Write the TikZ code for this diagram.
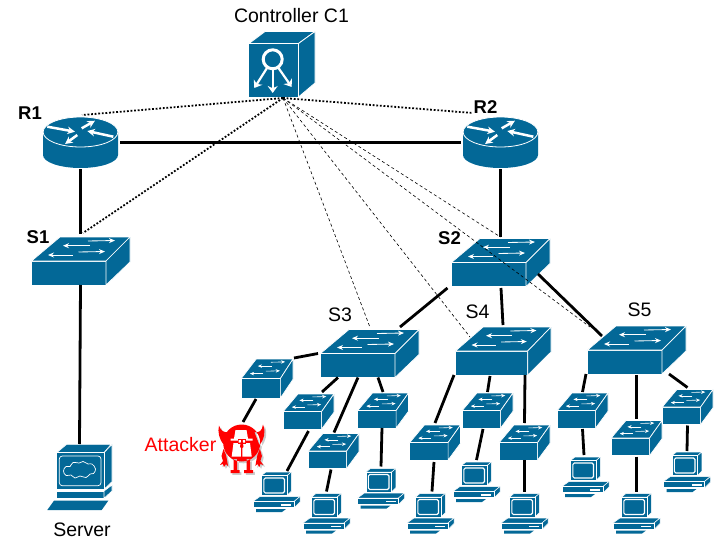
\documentclass[tikz,border=0pt]{standalone}
\usepackage{fontspec}
\setmainfont{Liberation Sans}
\usepackage{xcolor}
\usetikzlibrary{calc,arrows.meta}
\definecolor{ciscoblue}{HTML}{036897}

% icons are drawn in local pixels, from the top left of the node
\newcommand{\swicon}[3]{%
  \begin{scope}[shift={(-#1/2,-#2/2)},xscale=#1/99,yscale=#2/48,draw=white,line width=0.7pt,fill=ciscoblue]
    \filldraw (0,24) -- (75,24) -- (75,48) -- (0,48) -- cycle;
    \filldraw (0.5,24) -- (29,0) -- (99,0) -- (75,24) -- cycle;
    \filldraw (75,24) -- (99,0) -- (99,25) -- (75,48) -- cycle;
    \draw[white,line width=#3*0.85pt,-{Stealth[length=#3*6pt,width=#3*5pt]}] (57,4) -- (84,3.5);
    \draw[white,line width=#3*0.85pt,-{Stealth[length=#3*6pt,width=#3*5pt]}] (59,8.7) -- (32,8.7);
    \draw[white,line width=#3*0.85pt,-{Stealth[length=#3*6pt,width=#3*5pt]}] (47.5,15) -- (74,14.5);
    \draw[white,line width=#3*0.85pt,-{Stealth[length=#3*6pt,width=#3*5pt]}] (42,18) -- (17,18);
  \end{scope}}
\newcommand{\routericon}{%
  \begin{scope}[shift={(-37.5,-25.5)}]
    \fill[ciscoblue] (0,15) -- (0,38) arc[start angle=180,end angle=360,x radius=37.5,y radius=-13] -- (75,15) -- cycle;
    \filldraw[fill=ciscoblue,draw=white,line width=0.8pt] (37.5,15) ellipse[x radius=37.4,y radius=15];
    \draw[white,line width=2.5pt,-{Stealth[length=7.5pt,width=7.5pt]}] (4.3,9.7) -- (32,14.7);
    \draw[white,line width=2.5pt,-{Stealth[length=7.5pt,width=7.5pt]}] (38.7,11.3) -- (52,3.7);
    \draw[white,line width=2.5pt,-{Stealth[length=7.5pt,width=7.5pt]}] (70.3,19.7) -- (44.3,14);
    \draw[white,line width=2.5pt,-{Stealth[length=7.5pt,width=7.5pt]}] (34.3,18) -- (22,27);
  \end{scope}}
\newcommand{\ctlicon}{%
  \begin{scope}[shift={(-33.5,-33)},draw=white,line width=0.8pt,fill=ciscoblue]
    \filldraw (0,12.5) -- (50.5,12.5) -- (50.5,66) -- (0,66) -- cycle;
    \filldraw (1,12.5) -- (17,0.5) -- (67,0.5) -- (50.5,12.5) -- cycle;
    \filldraw (50.5,12.5) -- (67,0.5) -- (67,52) -- (50.5,66) -- cycle;
    \draw[white,line width=3pt] (24.7,28.3) circle[radius=9.5];
    \draw[white,line width=2.2pt,-{Stealth[length=7pt,width=10pt]}] (24.7,38) -- (24.7,62);
    \draw[white,line width=2.2pt,-{Stealth[length=7pt,width=10pt]}] (19,37) -- (6.3,57);
    \draw[white,line width=2.2pt,-{Stealth[length=7pt,width=10pt]}] (30.5,37) -- (43.7,56);
  \end{scope}}
\newcommand{\pcicon}{%
  \begin{scope}[shift={(-23.5,-20)},draw=white,line width=0.5pt,fill=ciscoblue]
    \filldraw (8.3,3.7) -- (13,0) -- (38.3,0) -- (34,3.7) -- cycle;
    \filldraw (34,3.7) -- (38.3,0) -- (38.3,19.3) -- (34,23.3) -- cycle;
    \filldraw (8.3,3.7) -- (34,3.7) -- (34,23.3) -- (8.3,23.3) -- cycle;
    \draw[white,line width=1.1pt,rounded corners=1.5pt] (10.8,6) rectangle (31.5,21);
    \filldraw (0,29.5) -- (7,24.5) -- (47,24.5) -- (41,29.5) -- cycle;
    \filldraw (41,29.5) -- (47,24.5) -- (47,30) -- (41,36) -- cycle;
    \filldraw (0,29.5) -- (41,29.5) -- (41,35.5) -- (0,35.5) -- cycle;
    \fill[white] (28,32) rectangle (38,33.5);
    \fill[ciscoblue] (3,37) -- (33,37) -- (29,40) -- (3,40) -- cycle;
  \end{scope}}
\newcommand{\servericon}{%
  \begin{scope}[shift={(-32.5,-33)},draw=white,line width=0.6pt,fill=ciscoblue]
    \filldraw (9.7,8.7) -- (19.7,0.3) -- (64,0.3) -- (57,8.7) -- cycle;
    \filldraw (57,8.7) -- (65,0.3) -- (65,37.7) -- (57,45.3) -- cycle;
    \filldraw (9.7,8.7) -- (57,8.7) -- (57,45.3) -- (9.7,45.3) -- cycle;
    \draw[white,line width=0.7pt,rounded corners=3pt] (12.3,12) rectangle (54,41.7);
    \draw[white,line width=0.7pt] plot[smooth cycle,tension=0.7] coordinates {(16.5,27) (19,22.5) (23,22.5) (26,18.5) (32,19) (36,17.5) (41,20) (45,20) (48.5,25) (46.5,29.5) (43,30) (39,33.5) (33,32) (28,34) (24,31) (19,31.5)};
    \filldraw (9.7,47) -- (57,47) -- (57,54.3) -- (9.7,54.3) -- cycle;
    \filldraw (57,47) -- (65,41) -- (65,47) -- (57,54.3) -- cycle;
    \fill[ciscoblue] (0.3,66) -- (54.7,66) -- (61.3,56.7) -- (7,56.7) -- cycle;
  \end{scope}}
\newcommand{\devilshape}{%
  (23.7,20) circle[radius=18.5]
  (6,22) .. controls (1,16) and (-0.5,9) .. (1,2.5) .. controls (3,8) and (6,10) .. (11,9) -- cycle
  (41.4,22) .. controls (46.4,16) and (47.9,9) .. (45,1.5) .. controls (44,8) and (41.4,10) .. (36.4,9) -- cycle
  (5.5,26) -- (3.5,33) -- (5,38) -- (2,42) -- (5,41) -- (6,44) -- (8,41) -- (10,43) -- (9,37) -- (8,32) -- cycle
  (41.9,26) -- (43.9,33) -- (42.4,38) -- (45.4,42) -- (42.4,41) -- (41.4,44) -- (39.4,41) -- (37.4,43) -- (38.4,37) -- (39.4,32) -- cycle
  (15.5,36) rectangle (19,47)
  (28.5,36) rectangle (32,47)
  (12.5,47) rectangle (21.5,50)
  (26,47) rectangle (35,50)}
\newcommand{\devilicon}{%
  \begin{scope}[shift={(-24.5,-26.5)}]
    \fill[black!20,shift={(1.8,1.8)}] \devilshape;
    \fill[red] \devilshape;
    \fill[white] (17.5,7) -- (28.5,7) -- (30,15.5) -- (34.5,15.5) -- (34.5,17.5) -- (12.5,17.5) -- (12.5,15.5) -- (16,15.5) -- cycle;
    \fill[white] (15.5,20) -- (32,20) -- (33.7,33.5) -- (13.7,33.5) -- cycle;
    \fill[red] (19.5,15.5) rectangle (28,21);
    \fill[white] (20.5,17) rectangle (22.8,19.5) (24.8,17) rectangle (27,19.5);
    \fill[red] (22.8,19) -- (24.8,19) -- (25.5,24) -- (24.4,25) -- (24.4,34) -- (23.2,34) -- (23.2,25) -- (22,24) -- cycle;
  \end{scope}}

\tikzset{
  pics/swpic/.style n args={3}{code={\swicon{#1}{#2}{#3}}},
  pics/routerpic/.style={code={\routericon}},
  pics/ctlpic/.style={code={\ctlicon}},
  pics/pcpic/.style={code={\pcicon}},
  pics/srvpic/.style={code={\servericon}},
  pics/devilpic/.style={code={\devilicon}}
}

\begin{document}
\begin{tikzpicture}[x=1pt,y=-1pt]
      \useasboundingbox (0,0) rectangle (716,544);
      \tikzstyle{devbox} = [inner sep = 0pt, outer sep = 0pt]
      \tikzstyle{swbig} = [devbox, minimum width = 99pt, minimum height = 48pt]
      \tikzstyle{swmid} = [devbox, minimum width = 96pt, minimum height = 48pt]
      \tikzstyle{swsmall} = [devbox, minimum width = 51pt, minimum height = 35pt]
      \tikzstyle{swtall} = [devbox, minimum width = 52pt, minimum height = 39pt]
      \tikzstyle{router} = [devbox, minimum width = 75pt, minimum height = 51pt]
      \tikzstyle{ctlbox} = [devbox, minimum width = 67pt, minimum height = 66pt]
      \tikzstyle{pcbox} = [devbox, minimum width = 47pt, minimum height = 40pt]
      \tikzstyle{srvbox} = [devbox, minimum width = 65pt, minimum height = 66pt]
      \tikzstyle{devil} = [devbox, minimum width = 49pt, minimum height = 53pt]
      \tikzstyle{lab} = [inner sep = 0pt, font = \fontsize{19.5}{22}\selectfont]
      \tikzstyle{blab} = [inner sep = 0pt, font = \fontsize{18.5}{22}\selectfont\bfseries]
      \tikzstyle{link} = [line width = 2.8pt]
      \tikzstyle{ctrldot} = [line width = 1.8pt, dash pattern = on 1.8pt off 1.8pt]
      \tikzstyle{ctrldash} = [line width = 0.6pt, dash pattern = on 3pt off 2.6pt]

      \node[ctlbox] (c1) at (281.5, 64) {};
      \node[router] (r1) at (80.5, 142.5) {};
      \node[router] (r2) at (500.5, 142.5) {};
      \node[swbig] (s1) at (80.5, 261) {};
      \node[swbig] (s2) at (500.5, 262.5) {};
      \node[swbig] (s3) at (369.5, 353.5) {};
      \node[swmid] (s4) at (503, 351) {};
      \node[swbig] (s5) at (636.5, 350) {};
      \node[srvbox] (srv) at (79.5, 477) {};
      % access switches
      \node[swtall] (a1) at (267, 378.5) {};
      \node[swsmall] (a2) at (308.5, 411.5) {};
      \node[swsmall] (a3) at (333.5, 451) {};
      \node[swsmall] (a4) at (383, 410.5) {};
      \node[swsmall] (b1) at (435, 442.5) {};
      \node[swsmall] (b2) at (487.5, 410.5) {};
      \node[swsmall] (b3) at (524.5, 442.5) {};
      \node[swsmall] (d1) at (582.5, 410.5) {};
      \node[swsmall] (d2) at (636.5, 438) {};
      \node[swsmall] (d3) at (687.5, 407) {};
      % hosts
      \node[devil] (att) at (242.5, 449.5) {};
      \node[pcbox] (p1) at (276.5, 492) {};
      \node[pcbox] (p2) at (326.5, 513.5) {};
      \node[pcbox] (p3) at (381, 488.5) {};
      \node[pcbox] (p4) at (430.5, 513.5) {};
      \node[pcbox] (p5) at (476.5, 482) {};
      \node[pcbox] (p6) at (524.5, 513.5) {};
      \node[pcbox] (p7) at (585.5, 477) {};
      \node[pcbox] (p8) at (636.5, 513.5) {};
      \node[pcbox] (p9) at (687, 472) {};

      % icons on the nodes
      \pic at (c1) {ctlpic};
      \pic at (srv) {srvpic};
      \pic at (att) {devilpic};
      \pic at (s4) {swpic={96}{48}{1}};
      \pic at (a1) {swpic={52}{39}{0.7}};
      \foreach \n in {r1,r2} \pic at (\n) {routerpic};
      \foreach \n in {s1,s2,s3,s5} \pic at (\n) {swpic={99}{48}{1}};
      \foreach \n in {a2,a3,a4,b1,b2,b3,d1,d2,d3} \pic at (\n) {swpic={51}{35}{0.7}};
      \foreach \n in {p1,p2,p3,p4,p5,p6,p7,p8,p9} \pic at (\n) {pcpic};

      % labels
      \node[lab] (lc1) at (291.5, 16) {Controller C1};
      \node[blab] (lr1) at (30, 113) {R1};
      \node[blab] (lr2) at (485.5, 107.5) {R2};
      \node[blab] (ls1) at (38, 237) {S1};
      \node[blab] (ls2) at (449.5, 238) {S2};
      \node[lab] (ls3) at (340, 315) {S3};
      \node[lab] (ls4) at (477.5, 311.5) {S4};
      \node[lab] (ls5) at (639.5, 310) {S5};
      \node[lab, text = red] (latt) at (180.5, 444.5) {Attacker};
      \node[lab] (lsrv) at (82, 530) {Server};

      % connections
      \draw[link] ([xshift=2pt]r1.east) to ([xshift=-2pt]r2.west);
      \draw[link] ([yshift=-1pt]r1.south) to ([yshift=3pt]s1.north);
      \draw[link] (s1.south) to (srv.north);
      \draw[link] ([yshift=-1pt]r2.south) to ([yshift=2pt]s2.north);
      \draw[link] ([xshift=-53pt,yshift=-1.5pt]s2.south) to ([xshift=30.5pt,yshift=2.5pt]s3.north);
      \draw[link] ([xshift=.5pt,yshift=-1.5pt]s2.south) to ([yshift=2pt]s4.north);
      \draw[link] ([xshift=-12pt,yshift=-11.5pt]s2.east) to ([xshift=15pt,yshift=14pt]s5.west);

      \draw[link] ([xshift=-2pt]s3.west) to ([xshift=1pt,yshift=20.5pt]a1.east);
      \draw[link] ([xshift=-31.5pt]s3.south) to ([xshift=13.5pt,yshift=2pt]a2.north);
      \draw[link] ([xshift=-11.5pt]s3.south) to ([xshift=.5pt,yshift=1pt]a3.north);
      \draw[link] ([xshift=8.5pt]s3.south) to ([yshift=1pt]a4.north);
      \draw[link] ([xshift=-11pt,yshift=-1pt]a1.south) to ([xshift=.5pt,yshift=1pt]att.north);
      \draw[link] ([yshift=-2pt]a2.south) to ([xshift=10.5pt,yshift=1pt]p1.north);
      \draw[link] ([xshift=-2.5pt,yshift=-1pt]a3.south) to ([yshift=2pt]p2.north);
      \draw[link] ([xshift=-1pt]a4.south) to ([yshift=2pt]p3.north);

      \draw[link] ([xshift=-49pt]s4.south) to ([yshift=2pt]b1.north);
      \draw[link] ([xshift=-13pt,yshift=-1pt]s4.south) to ([yshift=1pt]b2.north);
      \draw[link] ([xshift=22pt]s4.south) to ([yshift=2pt]b3.north);
      \draw[link] ([xshift=-1pt,yshift=-2pt]b1.south) to ([xshift=1.5pt,yshift=2pt]p4.north);
      \draw[link] ([xshift=-4.5pt,yshift=-1pt]b2.south) to ([yshift=2pt]p5.north);
      \draw[link] (b3.south) to ([yshift=2pt]p6.north);

      \draw[link] ([xshift=-50.5pt]s5.south) to ([yshift=1pt]d1.north);
      \draw[link] ([yshift=-1pt]s5.south) to ([yshift=2pt]d2.north);
      \draw[link] ([xshift=32.5pt]s5.south) to ([yshift=2pt]d3.north);
      \draw[link] ([yshift=-1pt]d1.south) to ([xshift=-1.5pt,yshift=2pt]p7.north);
      \draw[link] ([yshift=-1pt]d2.south) to ([yshift=2pt]p8.north);
      \draw[link] ([yshift=-1pt]d3.south) to ([yshift=1pt]p9.north);

      % control channels
      \coordinate (c1out) at ([xshift=1.5pt,yshift=-1pt]c1.south);
      \draw[ctrldot] (c1out) to ([xshift=1.5pt,yshift=2pt]r1.north);
      \draw[ctrldot] (c1out) to ([xshift=2.5pt,yshift=4pt]s1.north);
      \draw[ctrldot] (c1out) to ([xshift=-27.5pt,yshift=4pt]r2.north);
      \draw[ctrldash] (c1out) to ([yshift=1.5pt]s2.north);
      \draw[ctrldash] (c1out) to ([yshift=3.5pt]s3.north);
      \draw[ctrldash] (c1out) to ([xshift=-33pt,yshift=-10pt]s4.north);
      \draw[ctrldash] (c1out) to ([xshift=-46.5pt,yshift=-1pt]s5.north);
\end{tikzpicture}
\end{document}
